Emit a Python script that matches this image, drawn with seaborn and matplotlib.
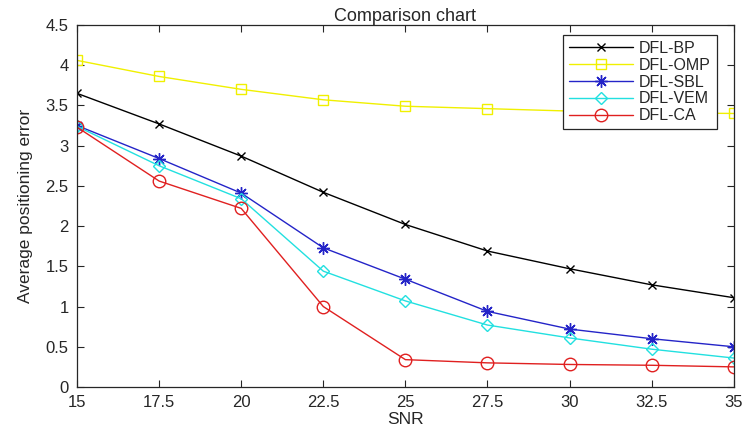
import pandas as pd
import seaborn as sns
import matplotlib
matplotlib.use("Agg")
import matplotlib.pyplot as plt

# SNR values and average positioning error of each method
snr = [15, 17.5, 20, 22.5, 25, 27.5, 30, 32.5, 35]
dfl_bp = [3.65, 3.27, 2.87, 2.42, 2.02, 1.69, 1.47, 1.27, 1.11]
dfl_omp = [4.06, 3.86, 3.70, 3.57, 3.49, 3.46, 3.43, 3.41, 3.40]
dfl_sbl = [3.25, 2.84, 2.41, 1.73, 1.34, 0.94, 0.72, 0.60, 0.50]
dfl_vem = [3.24, 2.75, 2.34, 1.44, 1.07, 0.77, 0.61, 0.47, 0.36]
dfl_ca = [3.23, 2.56, 2.22, 1.00, 0.34, 0.30, 0.28, 0.27, 0.25]

series = {
    "DFL-BP": dfl_bp,
    "DFL-OMP": dfl_omp,
    "DFL-SBL": dfl_sbl,
    "DFL-VEM": dfl_vem,
    "DFL-CA": dfl_ca,
}
# colour, marker, marker size (MATLAB-like styles)
styles = {
    "DFL-BP": ("black", "x", 6),
    "DFL-OMP": ("#f0f000", "s", 7),
    "DFL-SBL": ("#2424c8", (8, 2, 0), 9),
    "DFL-VEM": ("#22e0e0", "D", 6),
    "DFL-CA": ("#e02020", "o", 9),
}

sns.set_style("ticks")
plt.rcParams["font.family"] = ["Liberation Sans", "DejaVu Sans"]
plt.rcParams["xtick.direction"] = "in"
plt.rcParams["ytick.direction"] = "in"

fig = plt.figure(figsize=(7.45, 4.36), dpi=100)
ax = fig.add_axes([0.1034, 0.1124, 0.8815, 0.8303])

for name, vals in series.items():
    color, marker, ms = styles[name]
    df = pd.DataFrame({"SNR": snr, "err": vals})
    sns.lineplot(data=df, x="SNR", y="err", ax=ax, color=color, marker=marker,
                 markersize=ms, markerfacecolor="none", markeredgecolor=color,
                 markeredgewidth=1.0, linewidth=1.0, label=name)

ax.set_xlim(15, 35)
ax.set_ylim(0, 4.5)
ax.set_xticks(snr)
ax.set_xticklabels(["15", "17.5", "20", "22.5", "25", "27.5", "30", "32.5", "35"])
ax.set_yticks([0, 0.5, 1, 1.5, 2, 2.5, 3, 3.5, 4, 4.5])
ax.set_yticklabels(["0", "0.5", "1", "1.5", "2", "2.5", "3", "3.5", "4", "4.5"])
ax.tick_params(top=True, right=True, labelsize=12, length=5, width=0.8,
               colors="#262626", pad=6)
for s in ax.spines.values():
    s.set_linewidth(0.9)
    s.set_color("#262626")

ax.set_title("Comparison chart", fontsize=13, pad=3)
ax.set_xlabel("SNR", fontsize=12.5, labelpad=1)
ax.set_ylabel("Average positioning error", fontsize=12.5, labelpad=9)

leg = ax.legend(loc="upper right", bbox_to_anchor=(0.974, 0.972), fontsize=11.5,
                frameon=True, fancybox=False, framealpha=1, handlelength=4.0,
                borderpad=0.35, labelspacing=0.12, handletextpad=0.4,
                borderaxespad=0)
leg.get_frame().set_edgecolor("#262626")
leg.get_frame().set_linewidth(0.9)

plt.savefig("out.png", dpi=100)
